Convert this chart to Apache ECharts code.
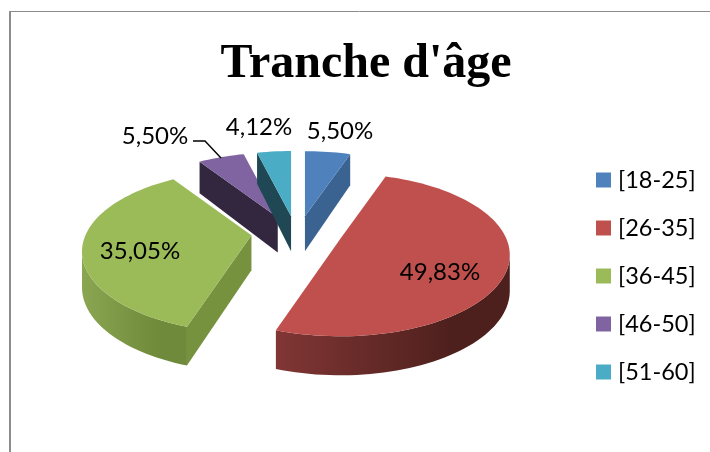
<!DOCTYPE html>
<html><head><meta charset="utf-8">
<style>html,body{margin:0;padding:0;background:#fff}#c{width:710px;height:452px}</style>
<script src="https://cdn.jsdelivr.net/npm/echarts@6/dist/echarts.min.js"></script>
</head><body><div id="c"></div>
<script>
const chartTitle = "Tranche d'âge";
const categories = ['[18-25]', '[26-35]', '[36-45]', '[46-50]', '[51-60]'];
const shares = [5.50, 49.83, 35.05, 5.50, 4.12];
const topColors = ['#4F81BD', '#C0504D', '#9BBB59', '#8064A2', '#4BACC6'];
const edgeColors = ['#3A6391', '#7E3432', '#76923F', '#33263F', '#1F4854'];
const arcColors = [['#3A6391', '#3A6391'], ['#813634', '#4E201D'], ['#8AA651', '#6E8A3A'], ['#33263F', '#33263F'], ['#1F4854', '#1F4854']];
const labelAt = [[340, 131], [440, 272], [140, 251], [155, 136], [259, 127]];
const leader = [[193, 141], [205, 141], [221, 158]];

// View of the tilted, exploded disc
const view = {cx: 297, cy: 233, rx: 166, ry: 82, perspA: 0.21, perspB: 0.05, ex: 46, ey: 17, depth: 35, depthGrow: 4};
const total = shares.reduce((a, b) => a + b, 0);
const rad = d => d * Math.PI / 180;

function rimPoint(theta, apex) {
  const X = Math.sin(theta), Y = -Math.cos(theta);
  const w = 1 - view.perspA * Y + view.perspB * Y * Y;
  return {p: [apex[0] + view.rx * X / w, apex[1] + view.ry * Y / w], Y};
}
const drop = (pt, Y) => [pt[0], pt[1] + view.depth + view.depthGrow * Y];

function renderSlice(i) {
  return function (params, api) {
    const start = shares.slice(0, i).reduce((a, b) => a + b, 0) / total * 360;
    const span = api.value(0) / total * 360;
    const mid = rad(start + span / 2);
    const apex = [view.cx + view.ex * Math.sin(mid), view.cy - view.ey * Math.cos(mid)];
    const rim = [];
    const steps = Math.max(4, Math.round(span / 2));
    for (let k = 0; k <= steps; k++) rim.push(rimPoint(rad(start + span * k / steps), apex));
    const first = rim[0], last = rim[rim.length - 1];
    const children = [];
    const wall = (a, aY, b, bY) => children.push({
      type: 'polygon', silent: true,
      shape: {points: [a, b, drop(b, bY), drop(a, aY)]},
      style: {fill: edgeColors[i]}
    });
    if (first.p[0] < apex[0] - 1) wall(apex, 0, first.p, first.Y);
    if (apex[0] < last.p[0] - 1) wall(last.p, last.Y, apex, 0);
    const vis = [];
    for (let k = 0; k < rim.length; k++) {
      const prev = rim[k - 1], next = rim[k + 1];
      if ((next && next.p[0] < rim[k].p[0]) || (prev && rim[k].p[0] < prev.p[0])) vis.push(rim[k]);
    }
    if (vis.length > 1) {
      const xs = vis.map(v => v.p[0]);
      const x0 = Math.min(...xs), x1 = Math.max(...xs);
      children.push({
        type: 'polygon', silent: true,
        shape: {points: vis.map(v => v.p).concat(vis.slice().reverse().map(v => drop(v.p, v.Y)))},
        style: {fill: new echarts.graphic.LinearGradient(x0, 0, x0 + (x1 - x0) * 0.75, 0, [
          {offset: 0, color: arcColors[i][0]}, {offset: 1, color: arcColors[i][1]}
        ], true)}
      });
    }
    children.push({
      type: 'polygon', silent: true,
      shape: {points: [apex].concat(rim.map(r => r.p))},
      style: {fill: topColors[i]}
    });
    children.push({
      type: 'text', silent: true, z2: 100,
      x: labelAt[i][0], y: labelAt[i][1],
      style: {
        text: shares[i].toFixed(2).replace('.', ',') + '%',
        fill: '#000', font: '24px Lato', align: 'center', verticalAlign: 'middle'
      }
    });
    return {type: 'group', children};
  };
}

const chart = echarts.init(document.getElementById('c'), null, {renderer: 'canvas'});
chart.setOption({
  animation: false,
  backgroundColor: '#fff',
  title: {
    text: chartTitle, left: 361, top: 36, textAlign: 'center',
    textStyle: {fontFamily: 'Liberation Serif', fontWeight: 'bold', fontSize: 48, color: '#000'}
  },
  legend: {
    orient: 'vertical', left: 591, top: 160, itemWidth: 15, itemHeight: 15, itemGap: 18,
    icon: 'rect', data: categories, selectedMode: false,
    textStyle: {fontFamily: 'Lato', fontSize: 23.5, color: '#000', lineHeight: 30, padding: [0, 0, 0, 2]}
  },
  graphic: [
    {type: 'line', silent: true, shape: {x1: 10, y1: 11, x2: 10, y2: 452}, style: {stroke: '#8c8c8c', lineWidth: 2}},
    {type: 'line', silent: true, shape: {x1: 9, y1: 11.5, x2: 710, y2: 11.5}, style: {stroke: '#8c8c8c', lineWidth: 1}},
    {type: 'polyline', silent: true, z: 10, shape: {points: leader}, style: {stroke: '#000', lineWidth: 1.4, fill: 'none'}}
  ],
  series: categories.map((name, i) => ({
    type: 'custom', name, coordinateSystem: 'none',
    itemStyle: {color: topColors[i]},
    data: [[shares[i]]],
    renderItem: renderSlice(i)
  }))
});
</script></body></html>
